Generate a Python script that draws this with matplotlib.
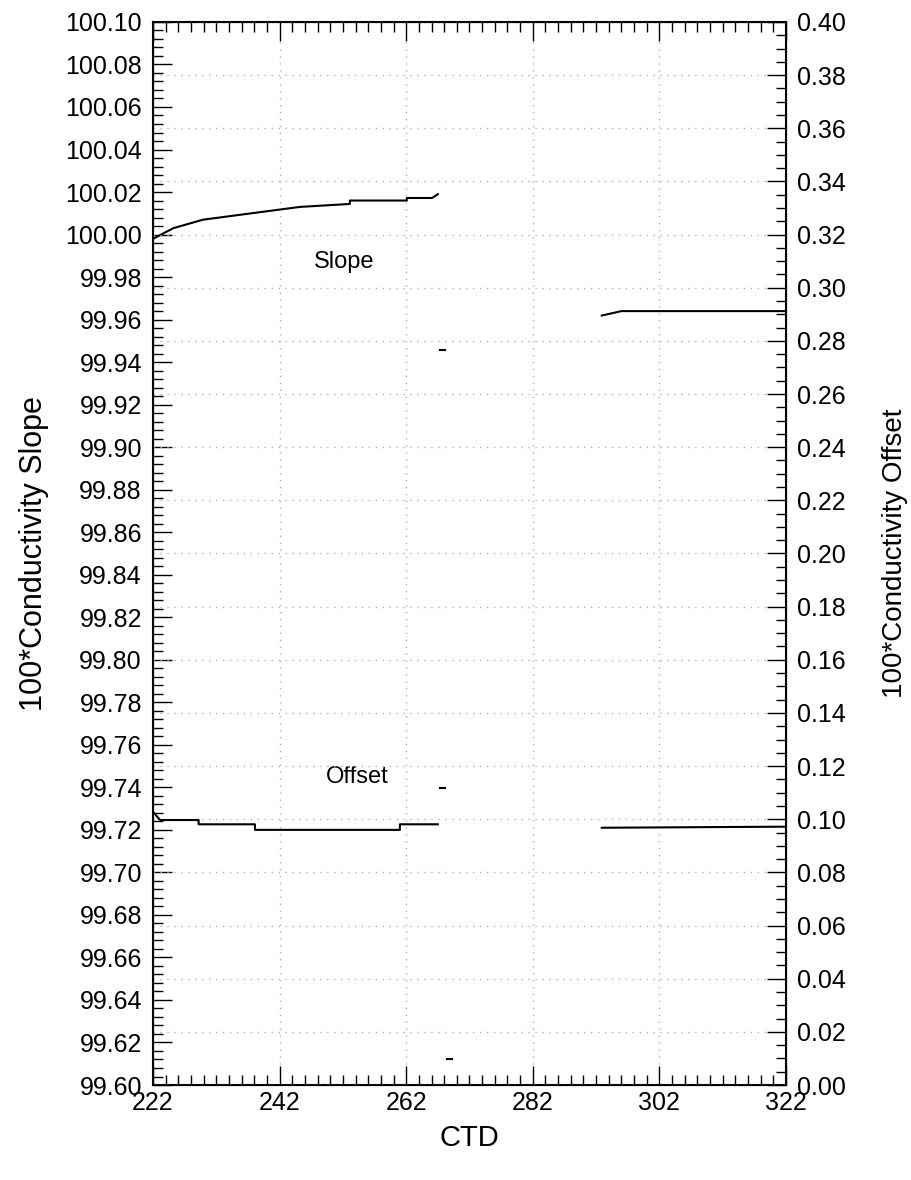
import numpy as np
import matplotlib
matplotlib.use('Agg')
import matplotlib.pyplot as plt
from matplotlib.ticker import MultipleLocator, FormatStrFormatter

plt.rcParams['font.family'] = ['Liberation Sans', 'DejaVu Sans']

# Slope (left axis), first and second station groups
slope_ctd_a = [222.0, 225.2, 229.9, 245.2, 253.1, 253.1, 262.1, 262.1, 266.1, 267.0]
slope_val_a = [99.998, 100.003, 100.007, 100.013, 100.0144, 100.016, 100.016, 100.0172, 100.0172, 100.019]
slope_ctd_b = [292.9, 296.0, 322.0]
slope_val_b = [99.9619, 99.964, 99.964]

# Offset (right axis)
offset_ctd_a = [222.0, 223.1, 229.2, 229.2, 238.1, 238.1, 261.0, 261.0, 267.0]
offset_val_a = [0.1028, 0.0997, 0.0997, 0.0981, 0.0981, 0.0960, 0.0960, 0.0981, 0.0981]
offset_ctd_b = [292.9, 300.0, 307.0, 314.0, 322.0]
offset_val_b = [0.0968, 0.0969, 0.0970, 0.0971, 0.0972]

# isolated short records near CTD 268
dash_slope_ctd = [267.3, 268.1]
dash_slope_val = [99.9457, 99.9457]
dash_off_ctd = [267.3, 268.1]
dash_off_val = [0.1118, 0.1118]
dash_low_ctd = [268.4, 269.2]
dash_low_val = [0.0097, 0.0097]

fig = plt.figure(figsize=(9.12, 11.8), dpi=100)
ax = fig.add_axes([0.1678, 0.0805, 0.694, 0.9009])
ax2 = ax.twinx()

ax.plot(slope_ctd_a, slope_val_a, color='black', lw=1.5)
ax.plot(slope_ctd_b, slope_val_b, color='black', lw=1.5)
ax.plot(dash_slope_ctd, dash_slope_val, color='black', lw=1.5)
ax2.plot(offset_ctd_a, offset_val_a, color='black', lw=1.5)
ax2.plot(offset_ctd_b, offset_val_b, color='black', lw=1.5)
ax2.plot(dash_off_ctd, dash_off_val, color='black', lw=1.5)
ax2.plot(dash_low_ctd, dash_low_val, color='black', lw=1.5)

ax.set_xlim(222, 322)
ax.set_ylim(99.60, 100.10)
ax2.set_ylim(0.0, 0.40)

ax.xaxis.set_major_locator(MultipleLocator(20, offset=2))
ax.xaxis.set_minor_locator(MultipleLocator(2))
ax.yaxis.set_major_locator(MultipleLocator(0.02))
ax.yaxis.set_minor_locator(MultipleLocator(0.004))
ax.yaxis.set_major_formatter(FormatStrFormatter('%.2f'))
ax2.yaxis.set_major_locator(MultipleLocator(0.02))
ax2.yaxis.set_minor_locator(MultipleLocator(0.005))
ax2.yaxis.set_major_formatter(FormatStrFormatter('%.2f'))

ax.tick_params(axis='x', which='both', direction='in', top=True, labelsize=18, pad=4)
ax.tick_params(axis='y', which='both', direction='in', left=True, right=False, labelsize=18, pad=8)
ax2.tick_params(axis='y', which='both', direction='in', labelsize=18, pad=8)
for a in (ax, ax2):
    a.tick_params(which='major', length=14, width=1)
    a.tick_params(which='minor', length=7, width=1)

# grid follows bottom and right-hand ticks
ax.grid(True, axis='x', which='major', linestyle=(0, (1, 4)), color='#b0b0b0', lw=1)
ax2.grid(True, axis='y', which='major', linestyle=(0, (1, 4)), color='#b0b0b0', lw=1)

ax.set_xlabel('CTD', fontsize=21, labelpad=7)
ax.set_ylabel('100*Conductivity Slope', fontsize=22, labelpad=12)
ax2.set_ylabel('100*Conductivity Offset', fontsize=20, labelpad=26)

ax.text(252.2, 99.987, 'Slope', ha='center', va='center', fontsize=17)
ax.text(254.2, 99.745, 'Offset', ha='center', va='center', fontsize=17)

for s in ax.spines.values():
    s.set_linewidth(1.5)

fig.savefig('out.png', dpi=100)
